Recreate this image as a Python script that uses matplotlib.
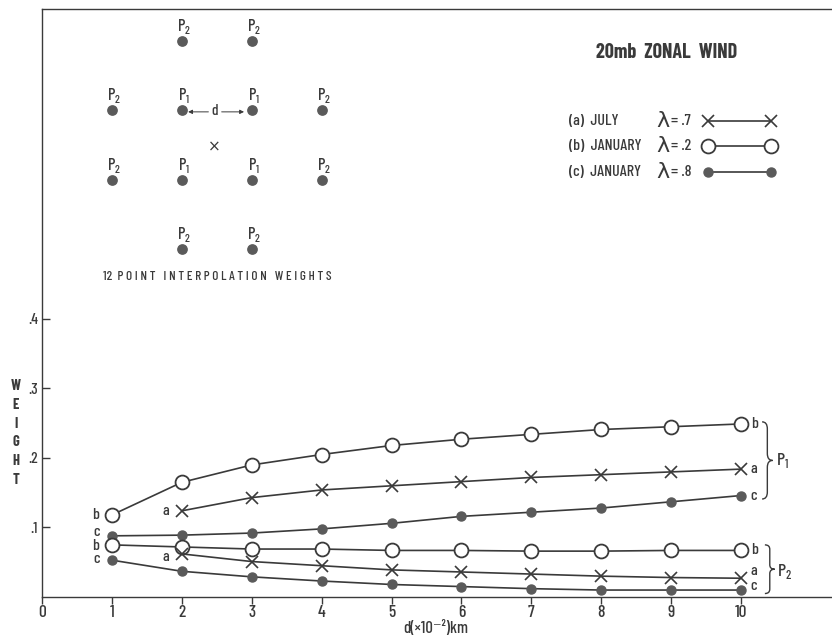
import matplotlib
matplotlib.use('Agg')
import matplotlib.pyplot as plt
from matplotlib import font_manager as fm
from matplotlib.path import Path
from matplotlib.patches import PathPatch

# pick a narrow gothic face if one is around
have = {f.name for f in fm.fontManager.ttflist}
narrow = 'DejaVu Sans'
for cand in ['Barlow Condensed', 'Archivo Narrow', 'Liberation Sans Narrow', 'Roboto Condensed']:
    if cand in have:
        narrow = cand
        break
plt.rcParams['font.family'] = [narrow, 'DejaVu Sans']
plt.rcParams['font.weight'] = 500
plt.rcParams['mathtext.fontset'] = 'custom'
plt.rcParams['mathtext.rm'] = narrow + ':medium'

# distance d (x10^-2 km)
d_all = [1, 2, 3, 4, 5, 6, 7, 8, 9, 10]
d_july = [2, 3, 4, 5, 6, 7, 8, 9, 10]

# P1 weights
b_p1 = [0.118, 0.165, 0.190, 0.205, 0.218, 0.227, 0.234, 0.241, 0.245, 0.249]
a_p1 = [0.124, 0.143, 0.154, 0.160, 0.166, 0.172, 0.176, 0.180, 0.184]
c_p1 = [0.088, 0.089, 0.092, 0.098, 0.106, 0.116, 0.122, 0.128, 0.137, 0.146]
# P2 weights
b_p2 = [0.075, 0.072, 0.069, 0.069, 0.067, 0.067, 0.066, 0.066, 0.067, 0.067]
a_p2 = [0.062, 0.051, 0.045, 0.039, 0.036, 0.033, 0.030, 0.028, 0.027]
c_p2 = [0.053, 0.037, 0.029, 0.023, 0.018, 0.015, 0.012, 0.010, 0.010, 0.010]

xticks = [0, 1, 2, 3, 4, 5, 6, 7, 8, 9, 10]
yticks = [0.1, 0.2, 0.3, 0.4]
ytick_labels = ['.1', '.2', '.3', '.4']

ink = '#3a3a3a'
dot = '#5a5a5a'

fig = plt.figure(figsize=(8.32, 6.37), dpi=100)
ax = fig.add_axes([42 / 832, 40 / 637, 790 / 832, 588 / 637])
ax.set_xlim(0, 11.3)
ax.set_ylim(0, 0.846)
ax.spines['right'].set_visible(False)
for s in ['left', 'top', 'bottom']:
    ax.spines[s].set_color(ink)
    ax.spines[s].set_linewidth(1.0)

ax.set_xticks(xticks)
ax.set_xticklabels([str(t) for t in xticks], fontsize=12.5, color=ink)
ax.set_yticks(yticks)
ax.set_yticklabels(ytick_labels, fontsize=11, color=ink)
ax.tick_params(axis='x', direction='out', length=5, width=1, color=ink, pad=1)
ax.tick_params(axis='y', direction='in', length=6, width=1, color=ink, pad=3)

fig.text(436 / 832, 1 - 628 / 637, 'd(\u00d710\u207b\u00b2)km', fontsize=12, color=ink,
         ha='center', va='center')
fig.text(16 / 832, 1 - 433 / 637, 'W\nE\nI\nG\nH\nT', fontsize=10.5, color=ink,
         fontweight='bold', ha='center', va='center', linespacing=1.45)

lw = 1.2
circ = dict(marker='o', markersize=10, markerfacecolor='white', markeredgecolor=ink,
            markeredgewidth=1.3)
cross = dict(marker='x', markersize=8, markeredgecolor=ink, markeredgewidth=1.2)
fill = dict(marker='o', markersize=6.5, markerfacecolor=dot, markeredgecolor=dot)

ax.plot(d_all, b_p1, color=ink, lw=lw, **circ)
ax.plot(d_july, a_p1, color=ink, lw=lw, **cross)
ax.plot(d_all, c_p1, color=ink, lw=lw, **fill)
ax.plot(d_all, b_p2, color=ink, lw=lw, **circ)
ax.plot(d_july, a_p2, color=ink, lw=lw, **cross)
ax.plot(d_all, c_p2, color=ink, lw=lw, **fill)


def end_labels(xs, ys, name, dl, dr):
    ax.annotate(name, (xs[0], ys[0]), xytext=(-9, dl), textcoords='offset points',
                ha='right', va='center', fontsize=11.5, color=ink)
    ax.annotate(name, (xs[-1], ys[-1]), xytext=(7, dr), textcoords='offset points',
                ha='left', va='center', fontsize=11.5, color=ink)


end_labels(d_all, b_p1, 'b', 0, 0)
end_labels(d_july, a_p1, 'a', 0, 0)
end_labels(d_all, c_p1, 'c', 3, 0)
end_labels(d_all, b_p2, 'b', -1, 0)
end_labels(d_july, a_p2, 'a', -2, 5)
end_labels(d_all, c_p2, 'c', 1, 3)


def brace(x0, y0, y1, w):
    h = w * 0.5
    ym = (y0 + y1) / 2
    r = (y1 - y0) * 0.09
    verts = [(x0, y1), (x0 + h, y1), (x0 + h, y1 - r),
             (x0 + h, ym + r),
             (x0 + h, ym), (x0 + w, ym),
             (x0 + h, ym), (x0 + h, ym - r),
             (x0 + h, y0 + r),
             (x0 + h, y0), (x0, y0)]
    codes = [Path.MOVETO, Path.CURVE3, Path.CURVE3, Path.LINETO,
             Path.CURVE3, Path.CURVE3, Path.CURVE3, Path.CURVE3,
             Path.LINETO, Path.CURVE3, Path.CURVE3]
    ax.add_patch(PathPatch(Path(verts, codes), fill=False, edgecolor=ink, lw=1.0))


brace(10.30, 0.141, 0.252, 0.15)
ax.text(10.50, 0.197, 'P$_{\\rm 1}$', fontsize=13, color=ink, ha='left', va='center')
brace(10.34, 0.005, 0.075, 0.14)
ax.text(10.52, 0.036, 'P$_{\\rm 2}$', fontsize=13, color=ink, ha='left', va='center')

# inset: 12 point stencil
grid_x = [2, 3, 1, 2, 3, 4, 1, 2, 3, 4, 2, 3]
grid_y = [0.8, 0.8, 0.7, 0.7, 0.7, 0.7, 0.6, 0.6, 0.6, 0.6, 0.5, 0.5]
grid_p = ['2', '2', '2', '1', '1', '2', '2', '1', '1', '2', '2', '2']
ax.scatter(grid_x, grid_y, s=45, color=dot, zorder=3)
for gx, gy, gp in zip(grid_x, grid_y, grid_p):
    ax.text(gx + 0.03, gy + 0.021, 'P$_{\\rm ' + gp + '}$', fontsize=12, color=ink,
            ha='center', va='center')
ax.text(2.47, 0.648, '\u00d7', fontsize=11, color=ink, ha='center', va='center',
        family='DejaVu Sans')
ax.text(2.47, 0.699, 'd', fontsize=11, color=ink, ha='center', va='center')
arw = dict(arrowstyle='-|>', color=ink, lw=0.7, mutation_scale=6, shrinkA=0, shrinkB=0)
ax.annotate('', xy=(2.09, 0.698), xytext=(2.38, 0.698), arrowprops=arw)
ax.annotate('', xy=(2.89, 0.698), xytext=(2.57, 0.698), arrowprops=arw)
ax.text(0.87, 0.461, '12  P O I N T   I N T E R P O L A T I O N   W E I G H T S',
        fontsize=9.5, color=ink, ha='left', va='center')

# title and key
ax.text(8.93, 0.784, '20mb  ZONAL  WIND', fontsize=14.5, color=ink, ha='center',
        va='center', fontweight='bold')
key_names = ['(a)  JULY', '(b)  JANUARY', '(c)  JANUARY']
key_lambda = ['.7', '.2', '.8']
key_y = [0.685, 0.6485, 0.612]
key_style = [cross, circ, fill]
for name, lam, ky, st in zip(key_names, key_lambda, key_y, key_style):
    ax.text(7.54, ky, name, fontsize=11.5, color=ink, ha='left', va='center')
    ax.text(8.79, ky, '\u03bb', fontsize=16, color=ink, ha='left', va='center',
            family='DejaVu Sans')
    ax.text(9.0, ky, '= ' + lam, fontsize=11.5, color=ink, ha='left', va='center')
    ax.plot([9.53, 10.43], [ky, ky], color=ink, lw=lw, **st)

fig.savefig('out.png', dpi=100)
